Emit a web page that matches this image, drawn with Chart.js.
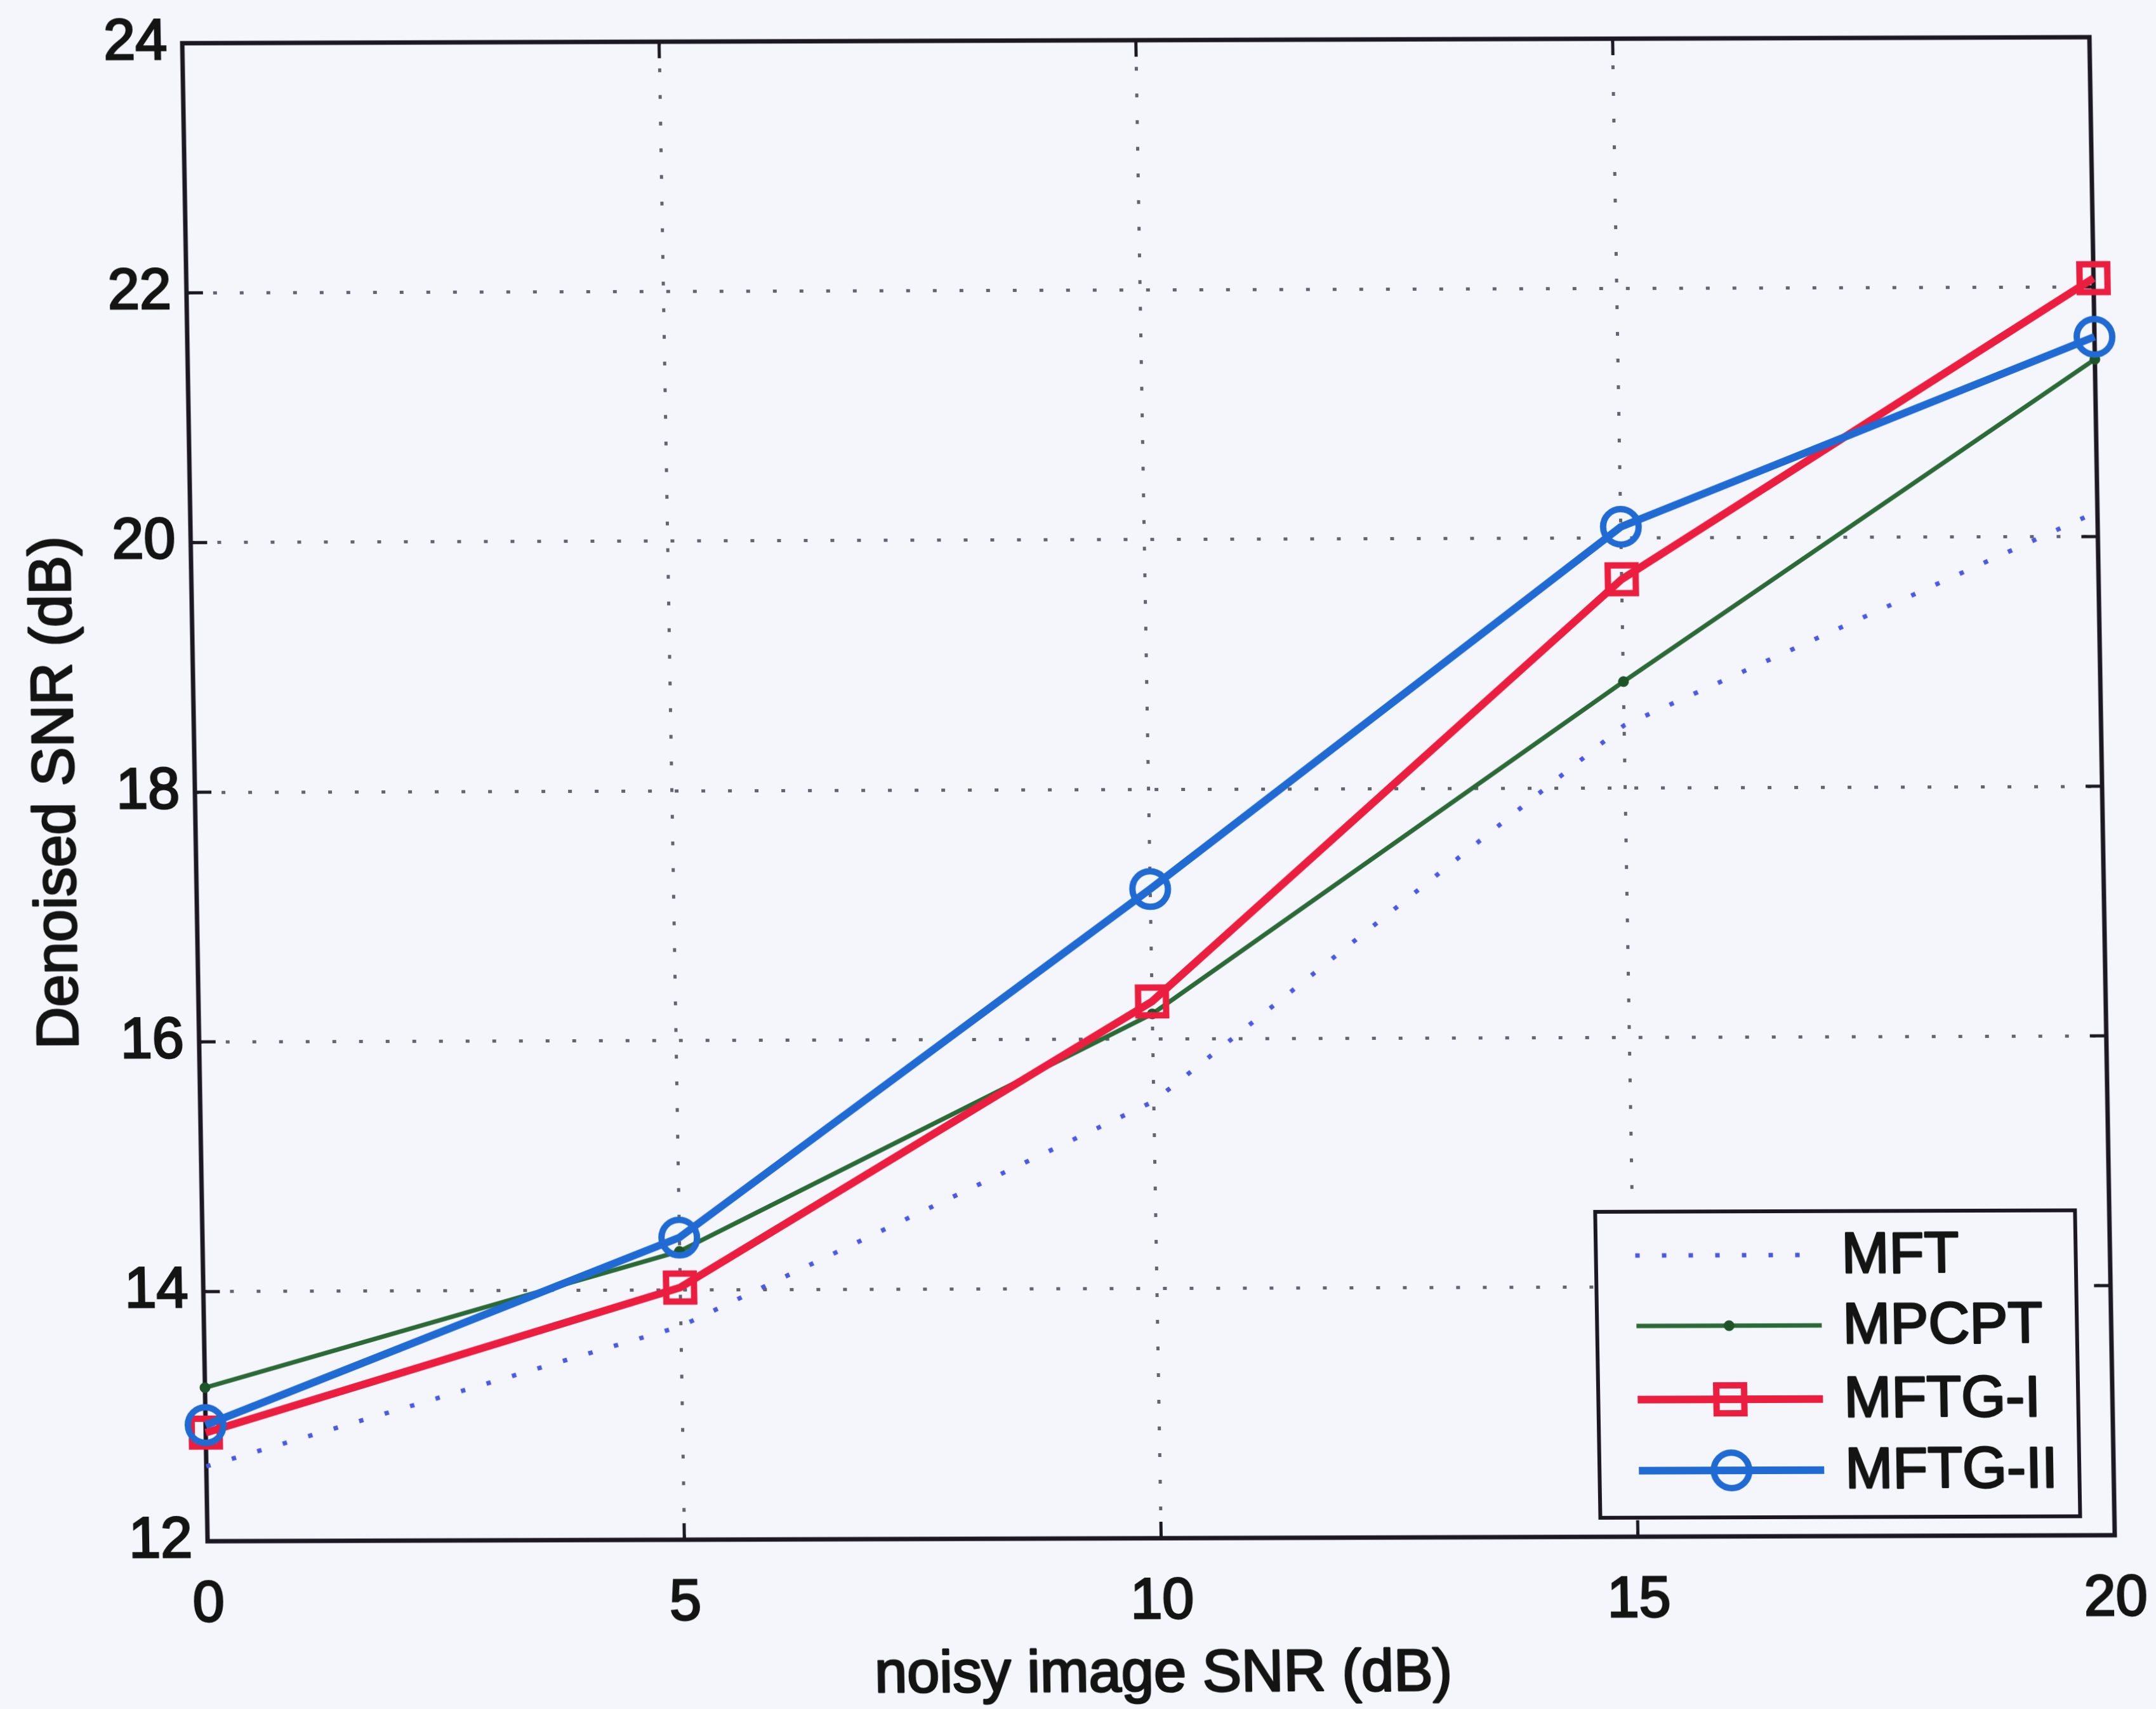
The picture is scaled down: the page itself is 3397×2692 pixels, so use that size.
<!DOCTYPE html>
<html>
<head>
<meta charset="utf-8">
<title>Denoised SNR vs noisy image SNR</title>
<script src="https://cdn.jsdelivr.net/npm/chart.js@4.4.1/dist/chart.umd.min.js"></script>
<style>
  html, body { margin: 0; padding: 0; background: #f4f6fc; overflow: hidden; }
  #wrap { width: 3397px; height: 2692px; }
  /* the printed figure sits slightly askew on the page */
  #chart { display: block; transform: matrix(1, -0.00316, 0.0169, 1, 0, 0); transform-origin: 0 0; }
</style>
</head>
<body>
<div id="wrap"><canvas id="chart" width="3397" height="2692"></canvas></div>
<script>
// input SNR (dB) on the x axis
const snrIn = [0, 5, 10, 15, 20];

// denoised SNR (dB) for each method
const mft   = [12.60, 13.71, 15.50, 18.50, 20.20];
const mpcpt = [13.23, 14.31, 16.20, 18.85, 21.42];
const mftg1 = [12.87, 14.02, 16.30, 19.67, 22.07];
const mftg2 = [12.93, 14.42, 17.20, 20.09, 21.60];

const seriesNames = ['MFT', 'MPCPT', 'MFTG-I', 'MFTG-II'];

// axis ticks
const xTicks = [0, 5, 10, 15, 20];
const yTicks = [12, 14, 16, 18, 20, 22, 24];

// axis titles
const xTitle = 'noisy image SNR (dB)';
const yTitle = 'Denoised SNR (dB)';

const FONT = '"Liberation Sans", Arial, Helvetica, sans-serif';
const INK = '#141414';
const FRAME = '#1c1822';
const PAPER = '#f4f6fc';
const TEXT_STROKE = 3;

const pts = vals => snrIn.map((x, i) => ({ x, y: vals[i] }));

function inkText(ctx, text, x, y) {
  ctx.fillText(text, x, y);
  ctx.lineWidth = TEXT_STROKE;
  ctx.strokeStyle = INK;
  ctx.lineJoin = 'round';
  ctx.strokeText(text, x, y);
}

// axes box with inward tick marks on all four sides
const frameBox = {
  id: 'frameBox',
  beforeDatasetsDraw(chart) {
    const { ctx, chartArea: a, scales: { x, y } } = chart;
    const t = 26;
    ctx.save();
    ctx.strokeStyle = FRAME;
    ctx.lineWidth = 5;
    ctx.beginPath();
    xTicks.slice(1, -1).forEach(v => {
      const px = x.getPixelForValue(v);
      ctx.moveTo(px, a.bottom); ctx.lineTo(px, a.bottom - t);
      ctx.moveTo(px, a.top); ctx.lineTo(px, a.top + t);
    });
    yTicks.slice(1, -1).forEach(v => {
      const py = y.getPixelForValue(v);
      ctx.moveTo(a.left, py); ctx.lineTo(a.left + t, py);
      ctx.moveTo(a.right, py); ctx.lineTo(a.right - t, py);
    });
    ctx.stroke();
    ctx.lineWidth = 7;
    ctx.strokeRect(a.left, a.top, a.width, a.height);
    ctx.restore();
  }
};

// axis titles, centred on the plot area
const axisTitles = {
  id: 'axisTitles',
  afterDraw(chart) {
    const { ctx, chartArea: a } = chart;
    ctx.save();
    ctx.fillStyle = INK;
    ctx.font = '92px ' + FONT;
    ctx.textAlign = 'center';
    ctx.textBaseline = 'middle';
    inkText(ctx, xTitle, (a.left + a.right) / 2, chart.height - 47);
    ctx.translate(70, (a.top + a.bottom) / 2);
    ctx.rotate(-Math.PI / 2);
    inkText(ctx, yTitle, 0, 0);
    ctx.restore();
  }
};

// boxed legend in the lower right corner of the plot
function marker(ctx, ds, cx, cy) {
  const style = ds.pointStyle || 'circle';
  const r = ds.pointRadius || 0;
  if (!r) return;
  ctx.save();
  ctx.setLineDash([]);
  ctx.lineWidth = ds.pointBorderWidth;
  ctx.strokeStyle = ds.pointBorderColor;
  ctx.fillStyle = ds.pointBackgroundColor;
  if (Chart.helpers && Chart.helpers.drawPoint) {
    Chart.helpers.drawPoint(ctx, { pointStyle: style, radius: r, rotation: 0, borderWidth: ds.pointBorderWidth }, cx, cy);
  } else {
    ctx.beginPath();
    if (style === 'rect') {
      const s = r * Math.SQRT1_2;
      ctx.rect(cx - s, cy - s, 2 * s, 2 * s);
    } else {
      ctx.arc(cx, cy, r, 0, Math.PI * 2);
    }
    ctx.fill();
    ctx.stroke();
  }
  ctx.restore();
}

const boxLegend = {
  id: 'boxLegend',
  afterDraw(chart) {
    const { ctx, chartArea: a } = chart;
    const w = 756, h = 482;
    const right = a.right - 54, bottom = a.bottom - 30;
    const left = right - w, top = bottom - h;
    const rows = [69, 180, 296, 408];
    ctx.save();
    ctx.fillStyle = PAPER;
    ctx.fillRect(left, top, w, h);
    ctx.strokeStyle = FRAME;
    ctx.lineWidth = 6;
    ctx.strokeRect(left, top, w, h);
    chart.data.datasets.forEach((ds, i) => {
      const cy = top + rows[i];
      const x0 = left + 62, x1 = left + 354;
      ctx.save();
      ctx.strokeStyle = ds.borderColor;
      ctx.lineWidth = ds.borderWidth;
      ctx.setLineDash(ds.borderDash || []);
      ctx.beginPath();
      ctx.moveTo(x0, cy);
      ctx.lineTo(x1, cy);
      ctx.stroke();
      ctx.restore();
      marker(ctx, ds, (x0 + x1) / 2, cy);
      ctx.save();
      ctx.fillStyle = INK;
      ctx.font = '90px ' + FONT;
      ctx.textAlign = 'left';
      ctx.textBaseline = 'middle';
      inkText(ctx, ds.label, left + 387, cy + 3);
      ctx.restore();
    });
    ctx.restore();
  }
};

const gridOpts = { color: '#646470', lineWidth: 5, drawTicks: false };
const borderOpts = { display: false, dash: [6, 36] };
const tickFont = { family: FONT, size: 90, lineHeight: 1 };

new Chart(document.getElementById('chart'), {
  type: 'line',
  data: {
    datasets: [
      {
        label: seriesNames[0], data: pts(mft),
        borderColor: '#4a58e4', borderWidth: 7, borderDash: [7, 35],
        pointRadius: 0, pointStyle: false, order: 4
      },
      {
        label: seriesNames[1], data: pts(mpcpt),
        borderColor: '#2b6a36', borderWidth: 7,
        pointStyle: 'circle', pointRadius: 8, pointBorderWidth: 1,
        pointBackgroundColor: '#1d5428', pointBorderColor: '#1d5428', order: 3
      },
      {
        label: seriesNames[2], data: pts(mftg1),
        borderColor: '#eb1e40', borderWidth: 12,
        pointStyle: 'rect', pointRadius: 31, pointBorderWidth: 10,
        pointBackgroundColor: 'rgba(0,0,0,0)', pointBorderColor: '#eb1e40', order: 2
      },
      {
        label: seriesNames[3], data: pts(mftg2),
        borderColor: '#1f6bd3', borderWidth: 12,
        pointStyle: 'circle', pointRadius: 28, pointBorderWidth: 10,
        pointBackgroundColor: 'rgba(0,0,0,0)', pointBorderColor: '#1f6bd3', order: 1
      }
    ]
  },
  options: {
    responsive: false,
    devicePixelRatio: 1,
    animation: false,
    events: [],
    datasets: { line: { tension: 0, fill: false, clip: false } },
    layout: { padding: { top: 65, right: 100, left: 0, bottom: 0 } },
    plugins: { legend: { display: false }, tooltip: { enabled: false } },
    scales: {
      x: {
        type: 'linear', min: xTicks[0], max: xTicks[xTicks.length - 1],
        afterBuildTicks: s => { s.ticks = xTicks.map(v => ({ value: v })); },
        afterFit: s => { s.height = 263; },
        grid: gridOpts, border: borderOpts,
        ticks: { color: INK, font: tickFont, padding: 56, maxRotation: 0, autoSkip: false,
                 textStrokeColor: INK, textStrokeWidth: TEXT_STROKE }
      },
      y: {
        type: 'linear', min: yTicks[0], max: yTicks[yTicks.length - 1],
        afterBuildTicks: s => { s.ticks = yTicks.map(v => ({ value: v })); },
        afterFit: s => { s.width = 286; },
        grid: gridOpts, border: borderOpts,
        ticks: { color: INK, font: tickFont, padding: 24, autoSkip: false,
                 textStrokeColor: INK, textStrokeWidth: TEXT_STROKE }
      }
    }
  },
  plugins: [frameBox, boxLegend, axisTitles]
});
</script>
</body>
</html>
